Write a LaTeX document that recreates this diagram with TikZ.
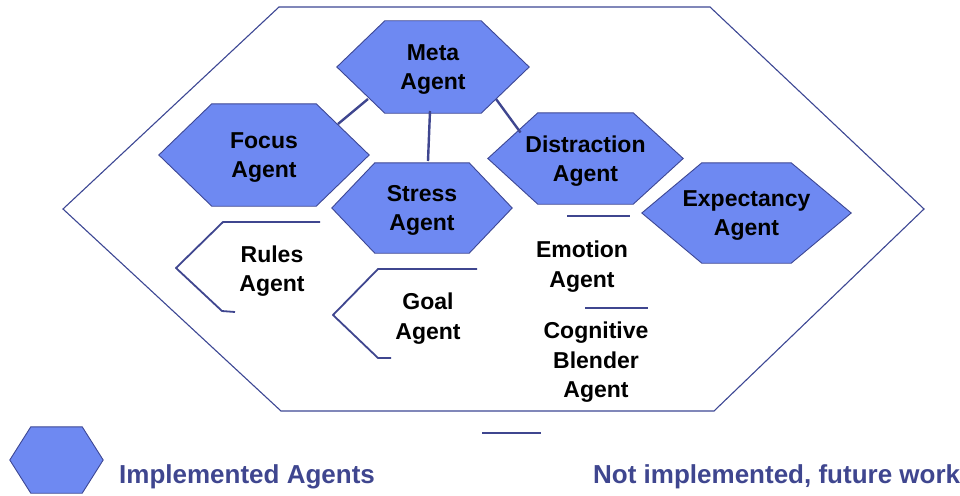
\documentclass[tikz,border=0pt]{standalone}
\usepackage{fontspec}
\setmainfont{Liberation Sans}
\usetikzlibrary{calc,backgrounds}
\definecolor{agentfill}{HTML}{6E89F2}
\definecolor{agentline}{HTML}{3D4794}
\definecolor{navy}{HTML}{3F468F}
\tikzset{
  agent/.style   = {inner sep=0pt, align=center, text=black,
                    font=\fontsize{23}{29.5}\selectfont\bfseries},
  agenttext/.style = {agent, yshift=-2.5pt},
  hexagon/.style = {draw=agentline, line width=0.9pt, fill=agentfill, line join=miter},
  frame/.style   = {draw=agentline, line width=1.1pt, fill=white},
  link/.style    = {draw=navy, line width=2.4pt},
  ghost/.style   = {draw=navy, line width=1.8pt, line join=round},
  legendtxt/.style = {anchor=west, inner sep=0pt, text=navy, yshift=-3pt,
                    font=\fontsize{26}{30}\selectfont\bfseries},
}

\begin{document}
\begin{tikzpicture}[x=1pt, y=-1pt]
  \useasboundingbox (0,0) rectangle (960,495);
  % outer frame
  \begin{scope}[on background layer]
    \path[frame] (279,7) -- (710,7) -- (924,209) -- (714,411) -- (281,411) -- (63,209) -- cycle;
  \end{scope}

  % implemented agents
  \node[agent, minimum width=192pt, minimum height=92pt]  (meta)   at (433,67)    {};
  \node[agent, minimum width=210pt, minimum height=102pt] (focus)  at (264,155)   {};
  \node[agent, minimum width=180pt, minimum height=90pt]  (stress) at (422,208)   {};
  \node[agent, minimum width=195pt, minimum height=91pt]  (distr)  at (585.5,158.5) {};
  \node[agent, minimum width=209pt, minimum height=100pt] (expect) at (746.5,213) {};
  \node[agent, minimum width=93pt, minimum height=66pt]   (legendhex) at (56.5,460) {};
  \node[agenttext] (metatxt)   at (meta)   {Meta\\Agent};
  \node[agenttext] (focustxt)  at (focus)  {Focus\\Agent};
  \node[agenttext] (stresstxt) at (stress) {Stress\\Agent};
  \node[agenttext] (distrtxt)  at (distr)  {Distraction\\Agent};
  \node[agenttext] (expecttxt) at (expect) {Expectancy\\Agent};

  \begin{scope}[on background layer]
    \foreach \n/\d in {meta/48, focus/53, stress/43, distr/50, expect/60, legendhex/21}
      \path[hexagon] (\n.west) -- ([xshift=\d]\n.north west) -- ([xshift=-\d]\n.north east)
        -- (\n.east) -- ([xshift=-\d]\n.south east) -- ([xshift=\d]\n.south west) -- cycle;
  \end{scope}

  \draw[link] ($(meta)+(-65,32)$) -- ($(focus)+(74,-31)$);
  \draw[link] ($(meta)+(-3,44)$) -- ($(stress)+(6,-47)$);
  \draw[link] ($(meta)+(63,32)$) -- ($(distr)+(-65,-26)$);

  % agents not implemented yet
  \node[agenttext] (rules)   at (272,268.5) {Rules\\Agent};
  \node[agenttext] (goal)    at (428,316)   {Goal\\Agent};
  \node[agenttext] (emotion) at (582,264)   {Emotion\\Agent};
  \node[agenttext] (blender) at (596,360)   {Cognitive\\Blender\\Agent};
  \draw[ghost] (320,222) -- (223,222) -- (176,268) -- (222,311) -- (235,312);
  \draw[ghost] (477,269) -- (378,269) -- (333,315) -- (378,358) -- (391,358);
  \draw[ghost] (567,216) -- (630,216);
  \draw[ghost] (585,308) -- (648,308);
  \draw[ghost] (482,433) -- (541,433);

  % legend
  \node[legendtxt] (impl)   at (119,474) {Implemented Agents};
  \node[legendtxt] (future) at (593,474) {Not implemented, future work};
\end{tikzpicture}
\end{document}
